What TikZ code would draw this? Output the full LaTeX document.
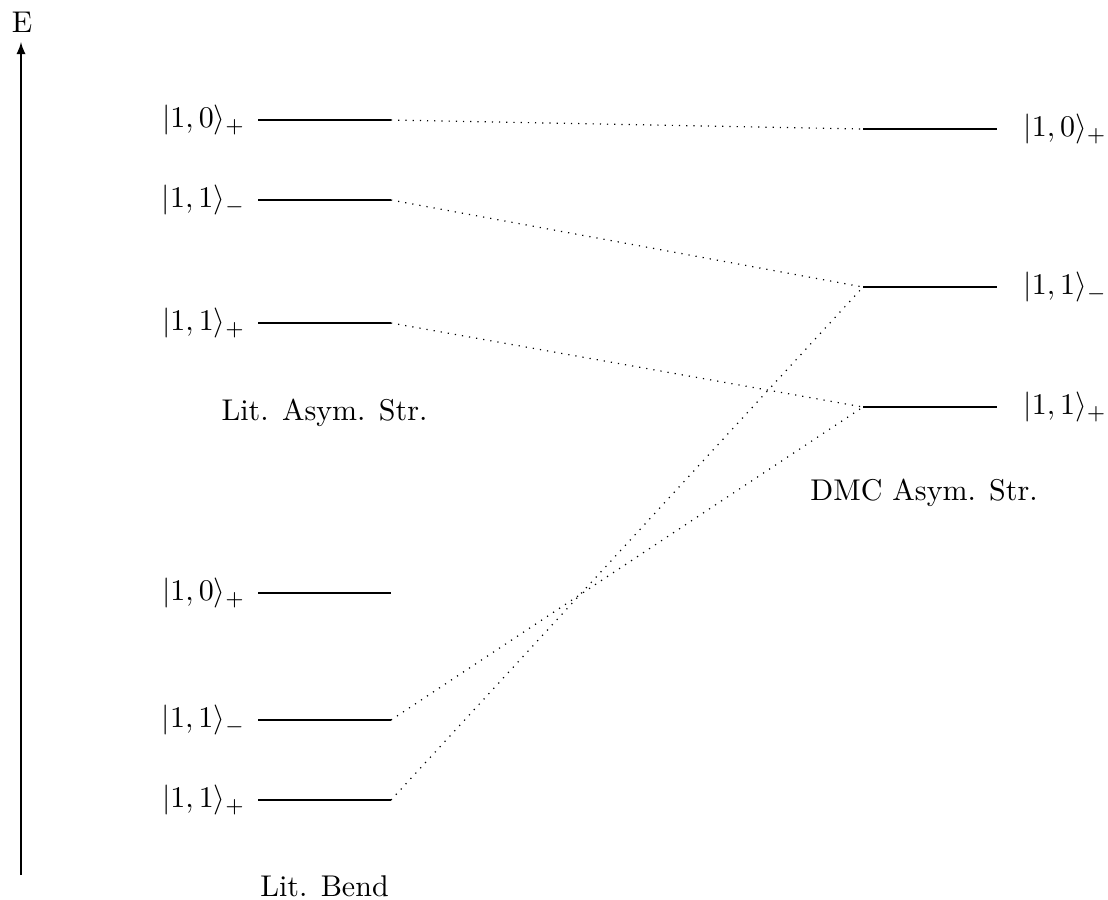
\documentclass[tikz,border=0pt]{standalone}
\usetikzlibrary{arrows}
\begin{document}
\begin{tikzpicture}[x=0.3333pt,y=-0.3333pt,
  level/.style={line width=0.4pt},
  link/.style={dotted,line width=0.4pt},
  lbl/.style={inner sep=0pt},
  captxt/.style={inner sep=0pt}]
\useasboundingbox (0,0) rectangle (1108,899);
% energy axis
\coordinate (ax0) at (21,875);
\coordinate (ax1) at (21,42);
\draw[-latex,line width=0.4pt] (ax0) -- (ax1);
\node[captxt] (E) at (22,22) {E};
% left levels (Lit. Asym. Str. / Lit. Bend)
\foreach \n/\y in {a1/120,a2/200,a3/323,b1/593,b2/720,b3/800}{
  \coordinate (\n l) at (258,\y);
  \coordinate (\n r) at (391,\y);
  \draw[level] (\n l) -- (\n r);
}
% right levels (DMC Asym. Str.)
\foreach \n/\y in {d1/129,d2/287,d3/407}{
  \coordinate (\n l) at (863,\y);
  \coordinate (\n r) at (997,\y);
  \draw[level] (\n l) -- (\n r);
}
% left labels
\node[lbl,anchor=east] (la1) at ([xshift=-4pt]a1l) {$|1,0\rangle_+$};
\node[lbl,anchor=east] (la2) at ([xshift=-4pt]a2l) {$|1,1\rangle_-$};
\node[lbl,anchor=east] (la3) at ([xshift=-4pt]a3l) {$|1,1\rangle_+$};
\node[lbl,anchor=east] (lb1) at ([xshift=-4pt]b1l) {$|1,0\rangle_+$};
\node[lbl,anchor=east] (lb2) at ([xshift=-4pt]b2l) {$|1,1\rangle_-$};
\node[lbl,anchor=east] (lb3) at ([xshift=-4pt]b3l) {$|1,1\rangle_+$};
% right labels
\node[lbl,anchor=west] (ld1) at ([xshift=8.6pt]d1r) {$|1,0\rangle_+$};
\node[lbl,anchor=west] (ld2) at ([xshift=8.6pt]d2r) {$|1,1\rangle_-$};
\node[lbl,anchor=west] (ld3) at ([xshift=8.6pt]d3r) {$|1,1\rangle_+$};
% captions
\node[captxt] (capA) at (324.5,413) {Lit. Asym. Str.};
\node[captxt] (capD) at (924,493) {DMC Asym. Str.};
\node[captxt] (capB) at (324.5,886) {Lit. Bend};
% correlation lines
\draw[link] (a1r) -- (d1l);
\draw[link] (a2r) -- (d2l);
\draw[link] (a3r) -- (d3l);
\draw[link] (b2r) -- (d3l);
\draw[link] (b3r) -- (d2l);
\end{tikzpicture}
\end{document}
